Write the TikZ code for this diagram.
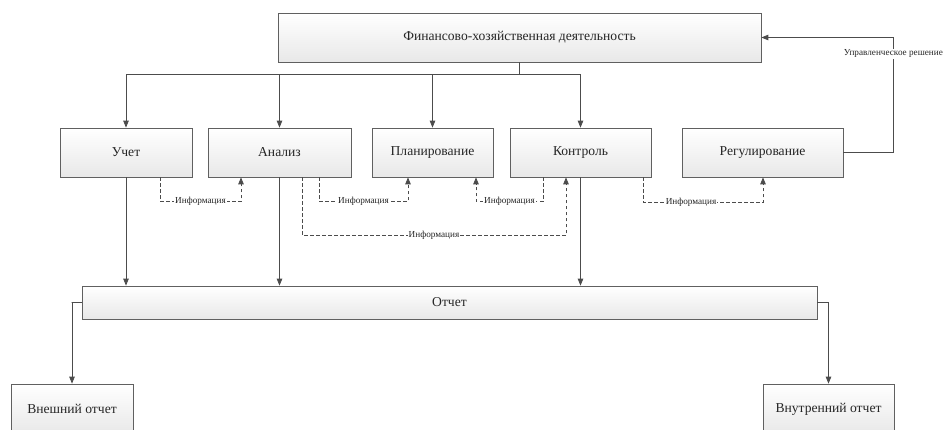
\documentclass[tikz,border=0pt]{standalone}
\usepackage{fontspec}
\setmainfont{Liberation Serif}
\usetikzlibrary{arrows.meta,calc,positioning}

\begin{document}
\begin{tikzpicture}[x=1pt, y=-1pt,
  block/.style={draw=gray!75!black, line width=0.7pt, top color=white, bottom color=gray!18,
    minimum height=49pt, inner sep=0pt, font=\fontsize{13.6}{15}\selectfont, text=black!85},
  arr/.style={draw=gray!60!black, line width=0.8pt, -{Triangle[length=7pt,width=5.5pt]}},
  info/.style={arr, dashed, dash pattern=on 3.5pt off 2.5pt},
  lbl/.style={fill=white, inner sep=1pt, font=\fontsize{9.2}{10}\selectfont, text=black!85}]

\useasboundingbox (0,0) rectangle (943,430);

\node[block, minimum width=483pt] (fin) at (519.5,37.5) {Финансово-хозяйственная деятельность};

\node[block, minimum width=132pt] (uch)  at (126,152.5)   {Учет};
\node[block, minimum width=143pt] (ana)  at (279.5,152.5) {Анализ};
\node[block, minimum width=121pt] (plan) at (432.5,152.5) {Планирование};
\node[block, minimum width=141pt] (kon)  at (580.5,152.5) {Контроль};
\node[block, minimum width=161pt] (reg)  at (762.5,152.5) {Регулирование};

\node[block, minimum width=735pt, minimum height=33pt] (otch) at (449.5,302.5) {Отчет};
\node[block, minimum width=122pt, minimum height=50pt] (vnesh) at (72,409)    {Внешний отчет};
\node[block, minimum width=131pt, minimum height=50pt] (vnutr) at (828.5,409) {Внутренний отчет};

% Распределение от верхнего блока
\draw[draw=gray!60!black, line width=0.8pt] (fin.south) -- ++(0,12) coordinate (bus);
\draw[draw=gray!60!black, line width=0.8pt] (bus -| uch.north) -- (bus -| kon.north);
\foreach \b in {uch,ana,plan,kon}
  \draw[arr] (bus -| \b.north) -- (\b.north);

% Информационные связи
\draw[info] ([xshift=34pt]uch.south) -- ++(0,24) -| node[lbl, pos=0.25]{Информация} ([xshift=-38.5pt]ana.south);
\draw[info] ([xshift=39.5pt]ana.south) -- ++(0,24) -| node[lbl, pos=0.25]{Информация} ([xshift=-24.5pt]plan.south);
\draw[info] ([xshift=-37.5pt]kon.south) -- ++(0,24) -| node[lbl, pos=0.25]{Информация} ([xshift=43.5pt]plan.south);
\draw[info] ([xshift=22.5pt]ana.south) -- ++(0,58) -| node[lbl, pos=0.25]{Информация} ([xshift=-14.5pt]kon.south);
\draw[info] ([xshift=62.5pt]kon.south) -- ++(0,25) -| node[lbl, pos=0.2]{Информация} ([xshift=0.5pt]reg.south);

% Обратная связь
\draw[arr] (reg.east) -- ++(50,0) |- node[lbl, pos=0.43]{Управленческое решение} (fin.east);

% К отчету
\foreach \b in {uch,ana,kon}
  \draw[arr] (\b.south) -- (\b.south |- otch.north);
\draw[arr] (otch.west) -- ++(-10,0) -| (vnesh.north);
\draw[arr] (otch.east) -- ++(11,0) -| (vnutr.north);

\end{tikzpicture}
\end{document}
